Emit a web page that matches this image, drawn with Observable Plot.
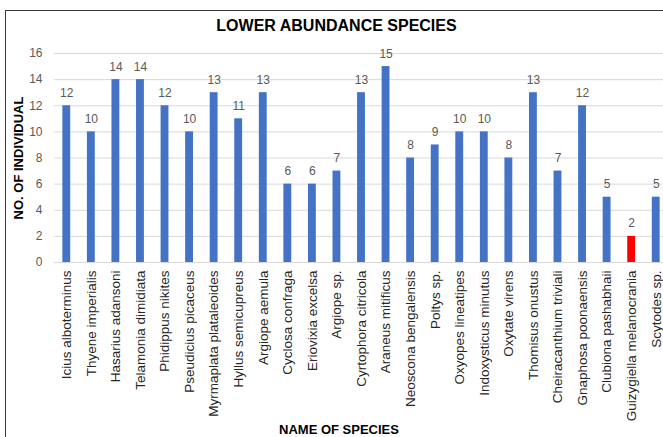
<!DOCTYPE html>
<html>
<head>
<meta charset="utf-8">
<script src="https://cdn.jsdelivr.net/npm/d3@7"></script>
<script src="https://cdn.jsdelivr.net/npm/@observablehq/plot@0.6"></script>
<style>
  html, body { margin: 0; padding: 0; background: #fff; overflow: hidden; width: 663px; height: 437px; }
  #frame { position: absolute; left: 5px; top: 10px; width: 720px; height: 520px; border: 1px solid #3a3a3a; box-sizing: border-box; }
  #title { position: absolute; left: 5px; width: 663px; top: 17px; text-align: center; font-family: "Liberation Sans", Arial, sans-serif; font-weight: bold; font-size: 16px; color: #000; }
  #chart { position: absolute; left: 0; top: 0; }
</style>
</head>
<body>
<div id="frame"></div>
<div id="title">LOWER ABUNDANCE SPECIES</div>
<div id="chart"></div>
<script>
const species = [
  "Icius alboterminus", "Thyene imperialis", "Hasarius adansoni", "Telamonia dimidiata",
  "Phidippus nikites", "Pseudicius picaceus", "Myrmaplata plataleoides", "Hyllus semicupreus",
  "Argiope aemula", "Cyclosa confraga", "Eriovixia excelsa", "Argiope sp.",
  "Cyrtophora citricola", "Araneus mitificus", "Neoscona bengalensis", "Poltys sp.",
  "Oxyopes lineatipes", "Indoxysticus minutus", "Oxytate virens", "Thomisus onustus",
  "Cheiracanthium triviali", "Gnaphosa poonaensis", "Clubiona pashabhaii",
  "Guizygiella melanocrania", "Scytodes sp."
];
const counts = [12, 10, 14, 14, 12, 10, 13, 11, 13, 6, 6, 7, 13, 15, 8, 9, 10, 10, 8, 13, 7, 12, 5, 2, 5];
const highlighted = ["Guizygiella melanocrania"];
const yTicks = [0, 2, 4, 6, 8, 10, 12, 14, 16];

const data = species.map((s, i) => ({species: s, count: counts[i], hi: highlighted.includes(s)}));

const chart = Plot.plot({
  width: 663,
  height: 437,
  marginTop: 53,
  marginBottom: 175,
  marginLeft: 54,
  marginRight: 0,
  style: {fontFamily: "'Liberation Sans', Arial, sans-serif", background: "transparent", overflow: "visible"},
  x: {domain: species, range: [54, 668], paddingInner: 0.68, paddingOuter: 0.34, round: false},
  y: {domain: [0, 16]},
  marks: [
    Plot.gridY(yTicks, {stroke: "#d9d9d9", strokeOpacity: 1}),
    Plot.barY(data, {x: "species", y: "count", fill: d => d.hi ? "#ff0000" : "#4472c4"}),
    Plot.text(data, {x: "species", y: "count", text: d => String(d.count), lineAnchor: "bottom", dy: -9, fill: "#595959", fontSize: 12}),
    Plot.axisY(yTicks, {tickSize: 0, tickPadding: 12, fill: "#595959", fontSize: 12, label: null}),
    Plot.axisX({tickSize: 0, tickPadding: 8, tickRotate: -90, fill: "#262626", fontSize: 13.5, label: null}),
    Plot.text(["NO. OF INDIVIDUAL"], {frameAnchor: "left", dx: -36, rotate: -90, textAnchor: "middle", fontWeight: "bold", fontSize: 13, fill: "#000"}),
    Plot.text(["NAME OF SPECIES"], {frameAnchor: "bottom", dx: -20, dy: 171, textAnchor: "middle", fontWeight: "bold", fontSize: 13, fill: "#000"})
  ]
});
document.getElementById("chart").append(chart);
</script>
</body>
</html>
